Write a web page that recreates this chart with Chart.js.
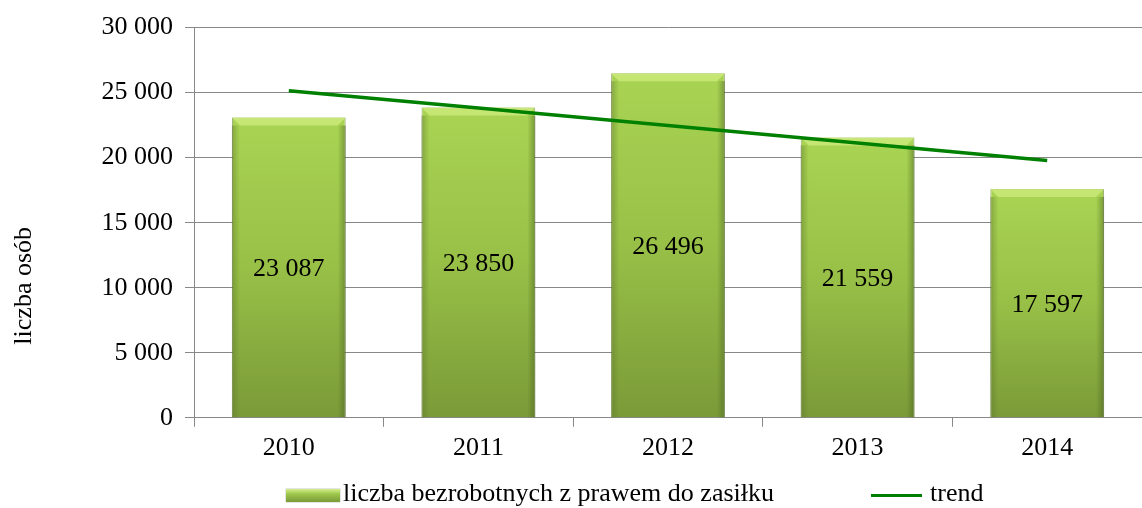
<!DOCTYPE html>
<html>
<head>
<meta charset="utf-8">
<script src="https://cdn.jsdelivr.net/npm/chart.js@4/dist/chart.umd.min.js"></script>
<style>
  body { margin: 0; background: #fff; }
  #wrap { position: relative; width: 1142px; height: 508px; }
  #legend { position: absolute; left: 0; top: 478px; width: 1142px; height: 30px;
            font-family: "Liberation Serif", "Times New Roman", serif; font-size: 26px; color: #000; }
  .item { position: absolute; top: 0; white-space: nowrap; line-height: 30px; }
  .box { display: inline-block; width: 54px; height: 13px; vertical-align: middle; margin-right: 3px;
         background: linear-gradient(#d4ee8a, #9cc64a 40%, #7a9a38); box-shadow: 0 0 1px #666; }
  .line { display: inline-block; width: 51px; height: 3px; background: #008000; vertical-align: middle; margin-right: 8px; }
</style>
</head>
<body>
<div id="wrap">
  <canvas id="chart" width="1142" height="508"></canvas>
  <div id="legend">
    <div class="item" style="left:286px"><span class="box"></span>liczba bezrobotnych z prawem do zasiłku</div>
    <div class="item" style="left:871px"><span class="line"></span>trend</div>
  </div>
</div>
<script>
const years = ["2010", "2011", "2012", "2013", "2014"];
const unemployed = [23087, 23850, 26496, 21559, 17597];
const trend = [25150, 23810, 22470, 21130, 19790];
const yTicks = [0, 5000, 10000, 15000, 20000, 25000, 30000];
const yTitle = "liczba osób";

const serif = "'Liberation Serif', 'Times New Roman', serif";

function fmt(v) {
    return String(v).replace(/\B(?=(\d{3})+(?!\d))/g, " ");
}

function barFill(ctx) {
    const chart = ctx.chart;
    const area = chart.chartArea;
    if (!area || ctx.raw == null) return "#9cc64a";
    const top = chart.scales.y.getPixelForValue(ctx.raw);
    const g = chart.ctx.createLinearGradient(0, top, 0, area.bottom);
    g.addColorStop(0, "#a9d453");
    g.addColorStop(0.5, "#98c047");
    g.addColorStop(1, "#7a9a38");
    return g;
}

// bevel + value labels on the bars
const barDecor = {
    id: "barDecor",
    afterDatasetDraw(chart, args) {
        if (args.index !== 0) return;
        const c = chart.ctx;
        const meta = chart.getDatasetMeta(0);
        meta.data.forEach((bar, i) => {
            const left = bar.x - bar.width / 2, right = bar.x + bar.width / 2;
            const top = bar.y, bottom = bar.base;
            const b = 8;
            c.save();
            c.fillStyle = "rgba(205,235,125,0.8)";
            c.beginPath();
            c.moveTo(left, top); c.lineTo(right, top);
            c.lineTo(right - b, top + b); c.lineTo(left + b, top + b);
            c.closePath(); c.fill();
            let g = c.createLinearGradient(left, 0, left + b, 0);
            g.addColorStop(0, "rgba(90,115,40,0.45)"); g.addColorStop(1, "rgba(90,115,40,0)");
            c.fillStyle = g;
            c.fillRect(left, top + b, b, bottom - top - b);
            g = c.createLinearGradient(right, 0, right - b, 0);
            g.addColorStop(0, "rgba(70,95,30,0.5)"); g.addColorStop(1, "rgba(70,95,30,0)");
            c.fillStyle = g;
            c.fillRect(right - b, top + b, b, bottom - top - b);
            c.fillStyle = "#000";
            c.font = "26px " + serif;
            c.textAlign = "center";
            c.textBaseline = "middle";
            c.fillText(fmt(unemployed[i]), bar.x, (top + bottom) / 2 + 2);
            c.restore();
        });
    }
};

// y title sits lower than the axis middle in the original
const yTitleDraw = {
    id: "yTitleDraw",
    afterDraw(chart) {
        const c = chart.ctx;
        c.save();
        c.translate(24, chart.chartArea.bottom - 132);
        c.rotate(-Math.PI / 2);
        c.fillStyle = "#000";
        c.font = "26px " + serif;
        c.textAlign = "center";
        c.textBaseline = "middle";
        c.fillText(yTitle, 0, 0);
        c.restore();
    }
};

const chart = new Chart(document.getElementById("chart"), {
    data: {
        labels: years,
        datasets: [{
            type: "bar",
            label: "liczba bezrobotnych z prawem do zasiłku",
            data: unemployed,
            backgroundColor: barFill,
            borderColor: "rgba(110,130,60,0.7)",
            borderWidth: 1,
            barPercentage: 0.6,
            categoryPercentage: 1,
            order: 1
        }, {
            type: "line",
            label: "trend",
            data: trend,
            borderColor: "#008000",
            borderWidth: 3.5,
            pointRadius: 0,
            fill: false,
            order: 0
        }]
    },
    options: {
        responsive: false,
        animation: false,
        layout: { padding: { top: 21, bottom: 38, left: 0, right: 0 } },
        plugins: { legend: { display: false }, tooltip: { enabled: false } },
        scales: {
            x: {
                grid: { display: true, drawOnChartArea: false, color: "#888", tickLength: 9, offset: true },
                border: { color: "#888" },
                ticks: { color: "#000", font: { family: serif, size: 26 }, padding: 6 }
            },
            y: {
                min: 0, max: 30000,
                afterBuildTicks: s => { s.ticks = yTicks.map(v => ({ value: v })); },
                afterFit: s => { s.width = 194; },
                grid: { color: "#888", tickLength: 9 },
                border: { color: "#888" },
                ticks: { color: "#000", font: { family: serif, size: 26 }, padding: 12, callback: v => fmt(v) }
            }
        }
    },
    plugins: [barDecor, yTitleDraw]
});
</script>
</body>
</html>
